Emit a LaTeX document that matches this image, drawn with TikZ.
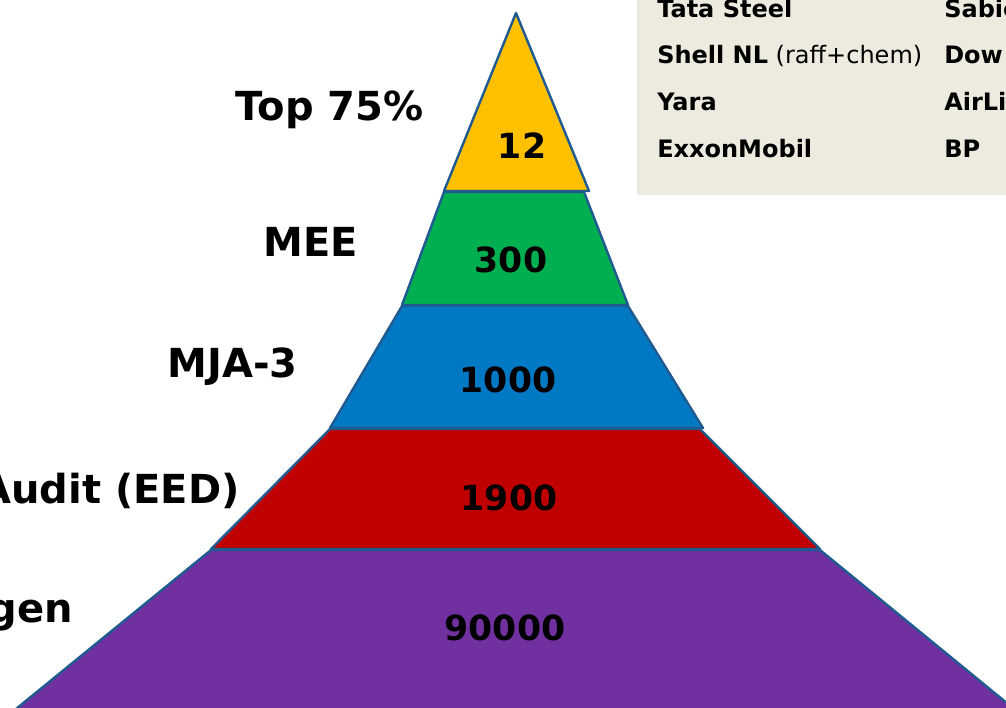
\documentclass[tikz,border=0pt]{standalone}
\usepackage{fontspec}
\setmainfont{DejaVu Sans}
\usepackage{tikz}
\usetikzlibrary{positioning}
\usepackage{xcolor}
\definecolor{lvlyellow}{HTML}{FFC000}
\definecolor{lvlgreen}{HTML}{00B050}
\definecolor{lvlblue}{HTML}{0079C4}
\definecolor{lvlred}{HTML}{C00000}
\definecolor{lvlpurple}{HTML}{7030A0}
\definecolor{edgeblue}{HTML}{1F5B91}
\definecolor{tablebg}{HTML}{EDEBE0}

\begin{document}
\begin{tikzpicture}[x=0.75pt, y=-0.75pt,
	layer/.style = {draw=edgeblue, line width=1.8pt, line join=round},
	count/.style = {font=\fontsize{26}{30}\selectfont\bfseries, anchor=base, inner sep=0pt},
	levelname/.style = {font=\fontsize{30}{36}\selectfont\bfseries, anchor=base east, inner sep=0pt},
	firm/.style = {font=\fontsize{18}{22}\selectfont, anchor=base west, inner sep=0pt}]
	\useasboundingbox (0,0) rectangle (1006,707);

	% company table
	\fill[tablebg] (637,-5) rectangle (1012,195);
	\draw (657,17) node[firm] (f1) {\textbf{Tata Steel}}
	(657,63) node[firm] (f2) {\textbf{Shell NL} (raff+chem)}
	(657,110) node[firm] (f3) {\textbf{Yara}}
	(657,157) node[firm] (f4) {\textbf{ExxonMobil}}
	(944,17) node[firm] (f5) {\textbf{Sabic}}
	(944,63) node[firm] (f6) {\textbf{Dow}}
	(944,110) node[firm] (f7) {\textbf{AirLiquide}}
	(944,157) node[firm] (f8) {\textbf{BP}};

	% pyramid layers
	\filldraw[layer, fill=lvlpurple] (211,550) -- (820,550) -- (1030,722) -- (0,722) -- cycle;
	\filldraw[layer, fill=lvlred] (330,429) -- (700,429) -- (820,549) -- (211,549) -- cycle;
	\filldraw[layer, fill=lvlblue] (402,306) -- (628,306) -- (703,428) -- (330,428) -- cycle;
	\filldraw[layer, fill=lvlgreen] (444,192) -- (584,192) -- (628,305) -- (402,305) -- cycle;
	\filldraw[layer, fill=lvlyellow] (516,13) -- (589,191) -- (444,191) -- cycle;

	\draw (522,158) node[count] (n1) {12}
	(511,272) node[count] (n2) {300}
	(508,392) node[count] (n3) {1000}
	(509,510) node[count] (n4) {1900}
	(505,640) node[count] (n5) {90000};

	\draw (424,120) node[levelname] (l1) {Top 75\%}
	(358,256) node[levelname] (l2) {MEE}
	(298,377) node[levelname] (l3) {MJA-3}
	(240,503) node[levelname] (l4) {Audit (EED)}
	(73,622) node[levelname] (l5) {gen};
\end{tikzpicture}
\end{document}
